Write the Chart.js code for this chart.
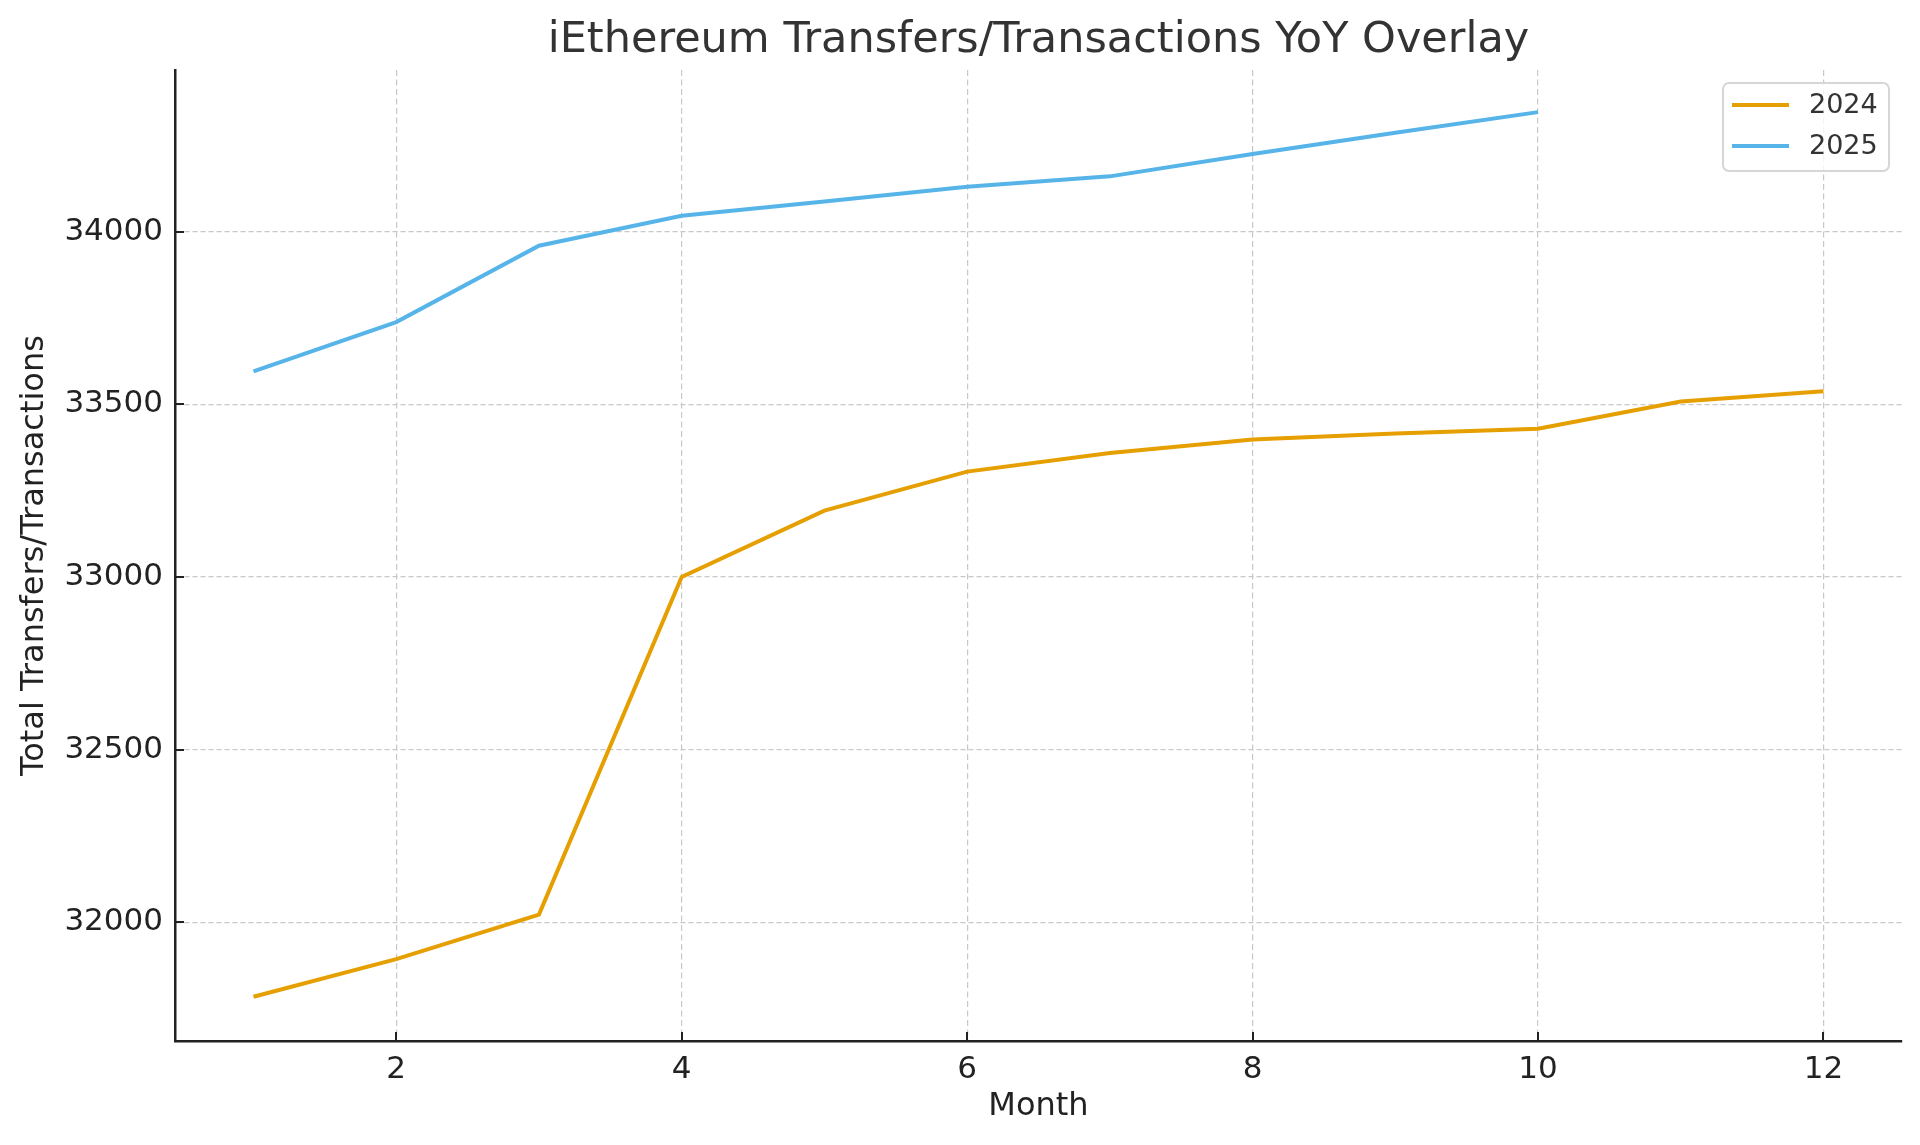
<!DOCTYPE html>
<html>
<head>
<meta charset="utf-8">
<title>iEthereum Transfers/Transactions YoY Overlay</title>
<script src="https://cdn.jsdelivr.net/npm/chart.js@4/dist/chart.umd.min.js"></script>
<style>
    html, body { margin: 0; padding: 0; background: #ffffff; }
    canvas { display: block; }
</style>
</head>
<body>
<canvas id="chart" width="1920" height="1145"></canvas>
<script>
// Data
const months2024 = [1, 2, 3, 4, 5, 6, 7, 8, 9, 10, 11, 12];
const values2024 = [31784, 31893, 32022, 33000, 33192, 33305, 33359, 33398, 33415, 33429, 33508, 33538];
const months2025 = [1, 2, 3, 4, 5, 6, 7, 8, 9, 10];
const values2025 = [33595, 33738, 33959, 34046, 34087, 34130, 34160, 34225, 34286, 34346];
const xTicks = [2, 4, 6, 8, 10, 12];
const yTicks = [32000, 32500, 33000, 33500, 34000];

const FONT = '"DejaVu Sans", Verdana, sans-serif';

// title drawn over the plot area centre, like matplotlib does
const titlePlugin = {
    id: 'axesTitle',
    afterDraw(chart) {
        const ctx = chart.ctx;
        const area = chart.chartArea;
        ctx.save();
        ctx.font = '43px ' + FONT;
        ctx.fillStyle = '#333333';
        ctx.textAlign = 'center';
        ctx.textBaseline = 'alphabetic';
        ctx.fillText('iEthereum Transfers/Transactions YoY Overlay', (area.left + area.right) / 2, 52);
        ctx.restore();
    }
};

// inward tick marks
const tickPlugin = {
    id: 'inwardTicks',
    afterDraw(chart) {
        const ctx = chart.ctx;
        const area = chart.chartArea;
        const x = chart.scales.x;
        const y = chart.scales.y;
        ctx.save();
        ctx.strokeStyle = '#222222';
        ctx.lineWidth = 2;
        ctx.beginPath();
        x.ticks.forEach(t => {
            const px = Math.round(x.getPixelForValue(t.value));
            ctx.moveTo(px, area.bottom);
            ctx.lineTo(px, area.bottom - 9);
        });
        y.ticks.forEach(t => {
            const py = Math.round(y.getPixelForValue(t.value));
            ctx.moveTo(area.left, py);
            ctx.lineTo(area.left + 9, py);
        });
        ctx.stroke();
        ctx.restore();
    }
};

// legend box in the upper right corner of the plot
const legendPlugin = {
    id: 'boxLegend',
    afterDraw(chart) {
        const ctx = chart.ctx;
        const area = chart.chartArea;
        const bx = area.right - 179, by = area.top + 13, bw = 166, bh = 88;
        ctx.save();
        ctx.beginPath();
        ctx.roundRect(bx, by, bw, bh, 6);
        ctx.fillStyle = 'rgba(255,255,255,0.8)';
        ctx.fill();
        ctx.strokeStyle = '#d6d6d6';
        ctx.lineWidth = 2;
        ctx.stroke();
        ctx.font = '27px ' + FONT;
        ctx.textAlign = 'left';
        ctx.textBaseline = 'middle';
        chart.data.datasets.forEach((ds, i) => {
            const cy = by + 22 + i * 41;
            ctx.strokeStyle = ds.borderColor;
            ctx.lineWidth = 4;
            ctx.beginPath();
            ctx.moveTo(bx + 9, cy);
            ctx.lineTo(bx + 66, cy);
            ctx.stroke();
            ctx.fillStyle = '#333333';
            ctx.fillText(ds.label, bx + 86, cy + 1);
        });
        ctx.restore();
    }
};

const gridOpts = {
    color: '#c8c8c8',
    lineWidth: 1.2,
    drawTicks: false
};

const chart = new Chart(document.getElementById('chart'), {
    type: 'line',
    data: {
        datasets: [
            {
                label: '2024',
                data: months2024.map((m, i) => ({ x: m, y: values2024[i] })),
                borderColor: '#E69F00',
                backgroundColor: '#E69F00',
                borderWidth: 4,
                pointRadius: 0,
                tension: 0
            },
            {
                label: '2025',
                data: months2025.map((m, i) => ({ x: m, y: values2025[i] })),
                borderColor: '#56B4E9',
                backgroundColor: '#56B4E9',
                borderWidth: 4,
                pointRadius: 0,
                tension: 0
            }
        ]
    },
    options: {
        responsive: false,
        animation: false,
        devicePixelRatio: 1,
        layout: {
            padding: { top: 70, right: 18, left: 0, bottom: 0 }
        },
        plugins: {
            legend: { display: false },
            title: { display: false },
            tooltip: { enabled: false }
        },
        scales: {
            x: {
                type: 'linear',
                min: 0.45,
                max: 12.55,
                afterFit(scale) { scale.height = 104; },
                afterBuildTicks(scale) { scale.ticks = xTicks.map(v => ({ value: v })); },
                grid: gridOpts,
                border: { display: true, color: '#222222', width: 2.5, dash: [6, 3.5] },
                ticks: {
                    padding: 10,
                    color: '#222222',
                    font: { family: FONT, size: 31 },
                    maxRotation: 0,
                    autoSkip: false
                },
                title: {
                    display: true,
                    text: 'Month',
                    color: '#222222',
                    font: { family: FONT, size: 32 },
                    padding: { top: 0, bottom: 19 }
                }
            },
            y: {
                type: 'linear',
                min: 31656,
                max: 34468,
                afterFit(scale) { scale.width = 175; },
                afterBuildTicks(scale) { scale.ticks = yTicks.map(v => ({ value: v })); },
                grid: gridOpts,
                border: { display: true, color: '#222222', width: 2.5, dash: [5, 3] },
                ticks: {
                    padding: 12,
                    color: '#222222',
                    font: { family: FONT, size: 31 },
                    callback: v => String(v)
                },
                title: {
                    display: true,
                    text: 'Total Transfers/Transactions',
                    color: '#222222',
                    font: { family: FONT, size: 32 },
                    padding: { top: 15, bottom: 0 }
                }
            }
        }
    },
    plugins: [titlePlugin, tickPlugin, legendPlugin]
});
</script>
</body>
</html>
